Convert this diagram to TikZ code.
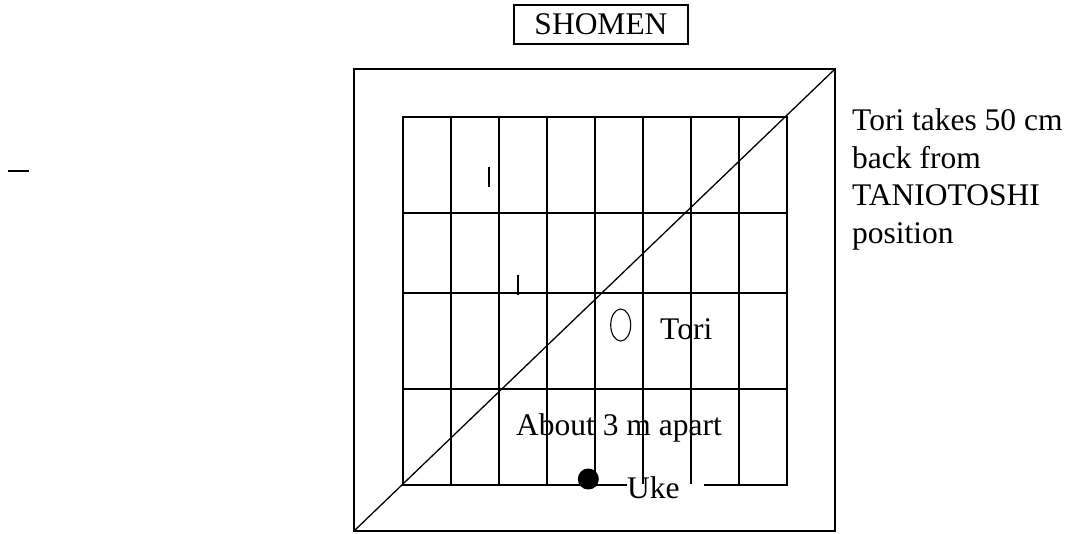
\documentclass[tikz,border=0pt]{standalone}
\usepackage{fontspec}
\setmainfont{Liberation Serif}
\usetikzlibrary{shapes.geometric}
\begin{document}
\begin{tikzpicture}[x=1pt,y=-1pt,
  ln/.style={line width=1.3pt,line cap=rect},
  lbl/.style={inner sep=0pt,anchor=base west,font=\fontsize{31.5}{37.5}\selectfont},
  tick/.style={line width=2.2pt}]
\useasboundingbox[fill=white] (0,0) rectangle (1071,533);
% outer square
\coordinate (oTL) at (354,69);
\coordinate (oBR) at (835,531);
\coordinate (oBL) at (354,531);
\coordinate (oTR) at (835,69);
\draw[ln] (oTL) rectangle (oBR);
% inner grid
\foreach \x in {403,451,499,547,595,643,691,739,787}
  \draw[ln] (\x,117) -- (\x,485);
\foreach \y in {117,213,293,389,485}
  \draw[ln] (403,\y) -- (787,\y);
% diagonal
\draw[ln] (oBL) -- (oTR);
% white patch behind Uke
\fill[white] (627,483.6) rectangle (704,512);
% SHOMEN
\node[draw,line width=1.3pt,minimum width=174pt,minimum height=39pt,inner sep=0pt,
  font=\fontsize{31.5}{37.5}\selectfont] (shomen) at (601,24.5) {SHOMEN};
% ticks and dash
\draw[tick] (8,171) -- (29,171);
\draw[tick] (489,167) -- (489,187);
\draw[tick] (518,275) -- (518,295);
% Tori marker
\node[draw,ellipse,line width=1.1pt,minimum width=20pt,minimum height=32pt,inner sep=0pt] (toriM) at (620.7,325) {};
\node[lbl] (tori) at (660,339) {Tori};
% Uke
\fill (588.3,479) circle (10.5pt);
\node[lbl] (uke) at (627,498) {Uke};
% About
\node[lbl] (about) at (516,435) {About 3 m apart};
% right text
\node[lbl,align=left,anchor=base west] (note) at (852,243) {Tori takes 50 cm\\back from\\TANIOTOSHI\\position};
\end{tikzpicture}
\end{document}
